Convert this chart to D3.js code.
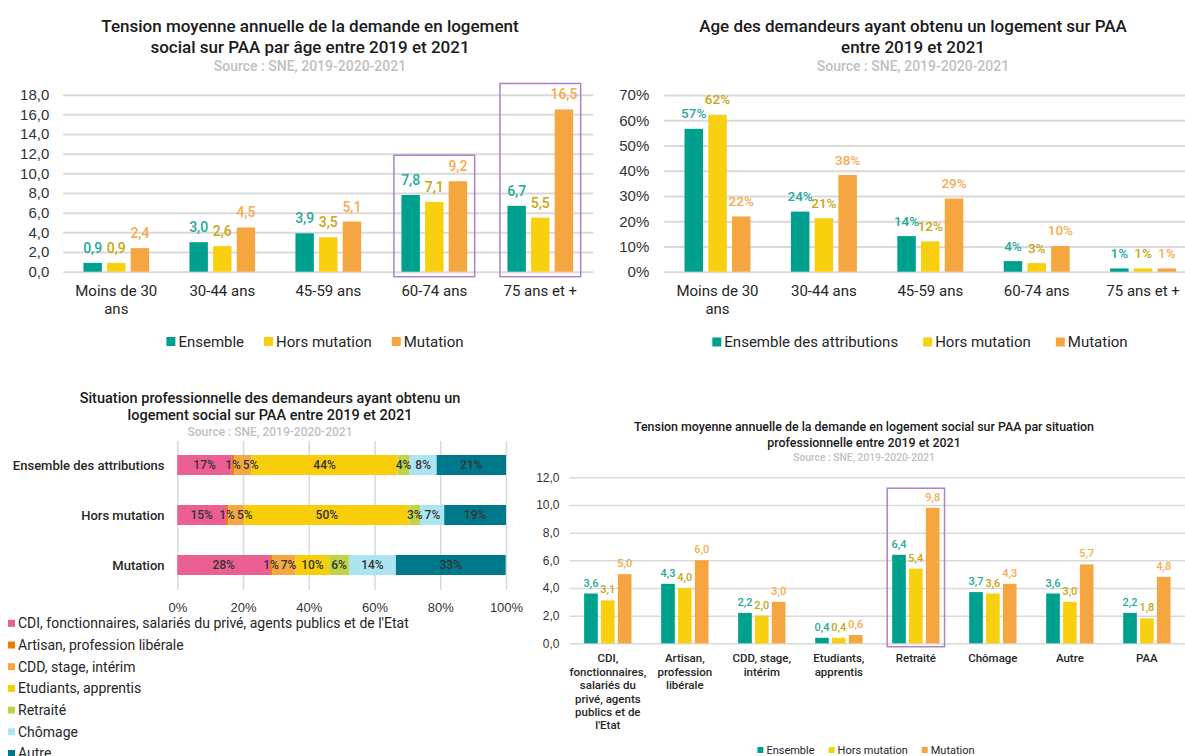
<!DOCTYPE html>
<html>
<head>
<meta charset="utf-8">
<script src="https://cdn.jsdelivr.net/npm/d3@7"></script>
<style>
body { margin: 0; background: #fff; }
svg { display: block; font-family: Roboto, "Noto Sans", sans-serif; }
</style>
</head>
<body>
<script>
// ---- data ----
var ageCategories = ["Moins de 30 ans", "30-44 ans", "45-59 ans", "60-74 ans", "75 ans et +"];

var tensionSeries = ["Ensemble", "Hors mutation", "Mutation"];
var tensionAgeEnsemble = [0.9, 3.0, 3.9, 7.8, 6.7];
var tensionAgeHors = [0.9, 2.6, 3.5, 7.1, 5.5];
var tensionAgeMutation = [2.4, 4.5, 5.1, 9.2, 16.5];
var tensionAgeTicks = [0, 2, 4, 6, 8, 10, 12, 14, 16, 18];
var tensionAgeHighlight = ["60-74 ans", "75 ans et +"];

var attribSeries = ["Ensemble des attributions", "Hors mutation", "Mutation"];
var attribAgeEnsemble = [0.566, 0.238, 0.141, 0.042, 0.013];
var attribAgeHors = [0.622, 0.212, 0.120, 0.034, 0.013];
var attribAgeMutation = [0.219, 0.383, 0.290, 0.102, 0.013];
var attribAgeTicks = [0, 0.1, 0.2, 0.3, 0.4, 0.5, 0.6, 0.7];

var profSituations = ["CDI, fonctionnaires, salariés du privé, agents publics et de l'Etat", "Artisan, profession libérale", "CDD, stage, intérim", "Etudiants, apprentis", "Retraité", "Chômage", "Autre"];
var profRows = ["Ensemble des attributions", "Hors mutation", "Mutation"];
var profEnsemble = [0.166, 0.007, 0.053, 0.444, 0.037, 0.082, 0.211];
var profHors = [0.148, 0.007, 0.049, 0.502, 0.033, 0.073, 0.188];
var profMutation = [0.282, 0.006, 0.072, 0.102, 0.060, 0.143, 0.334];
var profTicks = [0, 0.2, 0.4, 0.6, 0.8, 1];

var situCategories = ["CDI, fonctionnaires, salariés du privé, agents publics et de l'Etat", "Artisan, profession libérale", "CDD, stage, intérim", "Etudiants, apprentis", "Retraité", "Chômage", "Autre", "PAA"];
var tensionSituEnsemble = [3.6, 4.3, 2.2, 0.4, 6.4, 3.7, 3.6, 2.2];
var tensionSituHors = [3.1, 4.0, 2.0, 0.4, 5.4, 3.6, 3.0, 1.8];
var tensionSituMutation = [5.0, 6.0, 3.0, 0.6, 9.8, 4.3, 5.7, 4.8];
var tensionSituTicks = [0, 2, 4, 6, 8, 10, 12];
var tensionSituHighlight = ["Retraité"];

var source = "Source : SNE, 2019-2020-2021";

// ---- setup ----
var width = 1185,
    height = 756
;

var svg = d3.select("body").append("svg")
    .attr("width", width)
    .attr("height", height)
;

var fr = d3.formatLocale({decimal: ",", thousands: "\u00a0", grouping: [3], currency: ["", "\u00a0€"]});
var fmt1 = fr.format(".1f");
var fmtPct = fr.format(".0%");

var barColors = ["#00a08f", "#f9d00f", "#f5a641"];
var labelColors = ["#26a99c", "#c9a514", "#f6ab4e"];
var profColors = ["#ec5f93", "#f07b05", "#f5a743", "#f8ce0b", "#bfd345", "#ace4f4", "#00788c"];
var gridColor = "#d9d9d9";
var boxColor = "#ab82c5";

var meas = svg.append("text").attr("visibility", "hidden");
function textWidth(s, size, weight) {
    meas.attr("font-size", size).attr("font-weight", weight).text(s);
    return meas.node().getComputedTextLength();
}

function wrap(s, maxW, size, weight) {
    var words = s.split(" "), lines = [], line = "";
    words.forEach(function(w) {
        var test = line ? line + " " + w : w;
        if (line && textWidth(test, size, weight) > maxW) {
            lines.push(line);
            line = w;
        } else {
            line = test;
        }
    });
    lines.push(line);
    return lines;
}

function titles(o) {
    o.title.forEach(function(t, i) {
        svg.append("text")
            .attr("x", o.cx)
            .attr("y", o.titleY[i])
            .attr("text-anchor", "middle")
            .attr("font-size", o.titleSize)
            .attr("font-weight", 500)
            .attr("fill", "#1a1a1a")
            .text(t)
        ;
    });
    svg.append("text")
        .attr("x", o.cx)
        .attr("y", o.sourceY)
        .attr("text-anchor", "middle")
        .attr("font-size", o.sourceSize)
        .attr("font-weight", 500)
        .attr("fill", "#bfbfbf")
        .text(source)
    ;
}

function legend(items, colors, o) {
    var ws = items.map(function(d) { return textWidth(d, o.size, 400); });
    var total = d3.sum(ws) + items.length * (o.sq + o.sqGap) + (items.length - 1) * o.itemGap;
    var x = o.cx - total / 2;
    items.forEach(function(d, i) {
        svg.append("rect")
            .attr("x", x)
            .attr("y", o.y - o.sq / 2)
            .attr("width", o.sq)
            .attr("height", o.sq)
            .attr("fill", colors[i])
        ;
        svg.append("text")
            .attr("x", x + o.sq + o.sqGap)
            .attr("y", o.y)
            .attr("dy", "0.35em")
            .attr("font-size", o.size)
            .attr("fill", "#262626")
            .text(d)
        ;
        x += o.sq + o.sqGap + ws[i] + o.itemGap;
    });
}

function groupedChart(o) {
    titles(o);

    var x0 = d3.scaleBand()
        .domain(o.categories)
        .range(o.xRange)
        .paddingInner(o.padIn)
        .paddingOuter(o.padOut)
    ;
    var x1 = d3.scaleBand()
        .domain(d3.range(o.series.length))
        .range([0, x0.bandwidth()])
        .paddingInner(o.barPad)
    ;
    var y = d3.scaleLinear()
        .domain([0, o.ticks[o.ticks.length - 1]])
        .range(o.yRange)
    ;

    var axis = d3.axisLeft(y)
        .tickValues(o.ticks)
        .tickFormat(o.fmt)
        .tickSize(-(o.gridEnd - o.xRange[0]))
        .tickPadding(o.tickPad)
    ;
    var ax = svg.append("g")
        .attr("transform", `translate(${o.xRange[0]},0)`)
        .attr("font-family", null)
        .call(axis)
    ;
    ax.select(".domain").remove();
    ax.selectAll("line").attr("stroke", gridColor).attr("stroke-width", o.gridWidth);
    ax.selectAll("text")
        .attr("fill", "#333")
        .attr("font-size", o.tickSize)
        .attr("font-weight", 500)
    ;

    o.values.forEach(function(vals, s) {
        o.categories.forEach(function(c, i) {
            var v = vals[i];
            svg.append("rect")
                .attr("x", x0(c) + x1(s))
                .attr("y", y(v))
                .attr("width", x1.bandwidth())
                .attr("height", y(0) - y(v))
                .attr("fill", barColors[s])
            ;
            svg.append("text")
                .attr("x", x0(c) + x1(s) + x1.bandwidth() / 2)
                .attr("y", y(v) - o.labelOff)
                .attr("text-anchor", "middle")
                .attr("font-size", o.labelSize)
                .attr("font-weight", 500)
                .attr("fill", labelColors[s])
                .text(o.fmt(v))
            ;
        });
    });

    // highlight boxes
    o.highlight.forEach(function(c) {
        var i = o.categories.indexOf(c);
        var top = y(d3.max(o.values, function(v) { return v[i]; })) - o.boxTop;
        svg.append("rect")
            .attr("x", x0(c) - o.boxPad)
            .attr("y", top)
            .attr("width", x0.bandwidth() + 2 * o.boxPad)
            .attr("height", y(0) + o.boxBottom - top)
            .attr("fill", "none")
            .attr("stroke", boxColor)
            .attr("stroke-width", 1.5)
        ;
    });

    // category labels
    o.categories.forEach(function(c) {
        var lines = wrap(c, o.wrapW, o.catSize, o.catWeight);
        lines.forEach(function(l, k) {
            svg.append("text")
                .attr("x", x0(c) + x0.bandwidth() / 2)
                .attr("y", y(0) + o.catOff + k * o.catLine)
                .attr("text-anchor", "middle")
                .attr("font-size", o.catSize)
                .attr("font-weight", o.catWeight)
                .attr("fill", "#262626")
                .text(l)
            ;
        });
    });

    legend(o.series, barColors, o.legend);
}

// ---- chart 1 : tension par âge ----
groupedChart({
    title: ["Tension moyenne annuelle de la demande en logement", "social sur PAA par âge entre 2019 et 2021"],
    cx: 310, titleY: [32, 53], titleSize: 17, sourceY: 70.5, sourceSize: 14,
    categories: ageCategories,
    series: tensionSeries,
    values: [tensionAgeEnsemble, tensionAgeHors, tensionAgeMutation],
    ticks: tensionAgeTicks,
    fmt: fmt1,
    xRange: [63.3, 593.3], gridEnd: 593.3, yRange: [271.7, 94.7],
    padIn: 0.38, padOut: 0.19, barPad: 0.22,
    gridWidth: 2, tickPad: 14, tickSize: 15,
    labelOff: 10, labelSize: 14,
    highlight: tensionAgeHighlight, boxPad: 7.5, boxTop: 26, boxBottom: 5,
    wrapW: 100, catSize: 15, catWeight: 400, catOff: 24.5, catLine: 18,
    legend: {cx: 315, y: 341.5, size: 15, sq: 9, sqGap: 3, itemGap: 20}
});

// ---- chart 2 : âge des attributaires ----
groupedChart({
    title: ["Age des demandeurs ayant obtenu un logement sur PAA", "entre 2019 et 2021"],
    cx: 913, titleY: [32, 53], titleSize: 17, sourceY: 70.5, sourceSize: 14,
    categories: ageCategories,
    series: attribSeries,
    values: [attribAgeEnsemble, attribAgeHors, attribAgeMutation],
    ticks: attribAgeTicks,
    fmt: fmtPct,
    xRange: [664.3, 1196.3], gridEnd: 1185, yRange: [271.7, 95],
    padIn: 0.38, padOut: 0.19, barPad: 0.22,
    gridWidth: 2, tickPad: 15, tickSize: 15,
    labelOff: 10.5, labelSize: 13.5,
    highlight: [], boxPad: 0, boxTop: 0, boxBottom: 0,
    wrapW: 100, catSize: 15, catWeight: 400, catOff: 24.5, catLine: 18,
    legend: {cx: 920, y: 342, size: 15, sq: 9, sqGap: 3, itemGap: 25}
});

// ---- chart 4 : tension par situation ----
groupedChart({
    title: ["Tension moyenne annuelle de la demande en logement social sur PAA par situation", "professionnelle entre 2019 et 2021"],
    cx: 864, titleY: [431.3, 447.3], titleSize: 12.4, sourceY: 460.5, sourceSize: 10.3,
    categories: situCategories,
    series: tensionSeries,
    values: [tensionSituEnsemble, tensionSituHors, tensionSituMutation],
    ticks: tensionSituTicks,
    fmt: fmt1,
    xRange: [569.5, 1185.2], gridEnd: 1185.2, yRange: [643.3, 477.3],
    padIn: 0.385, padOut: 0.19, barPad: 0.19,
    gridWidth: 1.5, tickPad: 10, tickSize: 12,
    labelOff: 7, labelSize: 11,
    highlight: tensionSituHighlight, boxPad: 5, boxTop: 19.5, boxBottom: 3.4,
    wrapW: 74, catSize: 11.5, catWeight: 500, catOff: 19, catLine: 13.4,
    legend: {cx: 866, y: 750, size: 11, sq: 6, sqGap: 3, itemGap: 14}
});

// ---- chart 3 : situation professionnelle (barres empilées) ----
titles({
    title: ["Situation professionnelle des demandeurs ayant obtenu un", "logement social sur PAA entre 2019 et 2021"],
    cx: 270, titleY: [402.7, 420.3], titleSize: 14.5, sourceY: 436, sourceSize: 12
});

var profX = d3.scaleLinear()
    .domain([0, 1])
    .range([177.3, 506])
;
var profY = d3.scaleBand()
    .domain(profRows)
    .range([440, 590])
    .paddingInner(0.6)
    .paddingOuter(0.3)
;

var profAxis = d3.axisBottom(profX)
    .tickValues(profTicks)
    .tickFormat(fmtPct)
    .tickSize(-(590 - 441))
    .tickPadding(13)
;
var pax = svg.append("g")
    .attr("transform", "translate(0,590)")
    .attr("font-family", null)
    .call(profAxis)
;
pax.select(".domain").remove();
pax.selectAll("line").attr("stroke", gridColor).attr("stroke-width", 1.5);
pax.selectAll("text").attr("fill", "#333").attr("font-size", 13).attr("font-weight", 500);

var profValues = [profEnsemble, profHors, profMutation];

// segments first, labels after, so no segment covers a label
profValues.forEach(function(vals, r) {
    var row = profRows[r];
    var acc = 0;
    vals.forEach(function(v, k) {
        svg.append("rect")
            .attr("x", profX(acc))
            .attr("y", profY(row))
            .attr("width", profX(acc + v) - profX(acc))
            .attr("height", profY.bandwidth())
            .attr("fill", profColors[k])
        ;
        acc += v;
    });
    svg.append("text")
        .attr("x", 164.5)
        .attr("y", profY(row) + profY.bandwidth() / 2)
        .attr("dy", "0.35em")
        .attr("text-anchor", "end")
        .attr("font-size", 13)
        .attr("font-weight", 500)
        .attr("fill", "#262626")
        .text(row)
    ;
});

profValues.forEach(function(vals, r) {
    var row = profRows[r];
    var acc = 0;
    var lastRight = -Infinity;
    vals.forEach(function(v, k) {
        // small labels get pushed right so they don't sit on top of each other
        var lbl = fmtPct(v);
        var w = textWidth(lbl, 12, 500);
        var cx = Math.max(profX(acc + v / 2), lastRight + 2 + w / 2);
        lastRight = cx + w / 2;
        svg.append("text")
            .attr("x", cx)
            .attr("y", profY(row) + profY.bandwidth() / 2)
            .attr("dy", "0.35em")
            .attr("text-anchor", "middle")
            .attr("font-size", 12)
            .attr("font-weight", 500)
            .attr("fill", "#333")
            .text(lbl)
        ;
        acc += v;
    });
});

// légende verticale
profSituations.forEach(function(s, k) {
    var yy = 623.3 + 21.7 * k;
    svg.append("rect")
        .attr("x", 8)
        .attr("y", yy - 3.5)
        .attr("width", 7)
        .attr("height", 7)
        .attr("fill", profColors[k])
    ;
    svg.append("text")
        .attr("x", 18)
        .attr("y", yy)
        .attr("dy", "0.35em")
        .attr("font-size", 14)
        .attr("fill", "#262626")
        .text(s)
    ;
});
</script>
</body>
</html>
